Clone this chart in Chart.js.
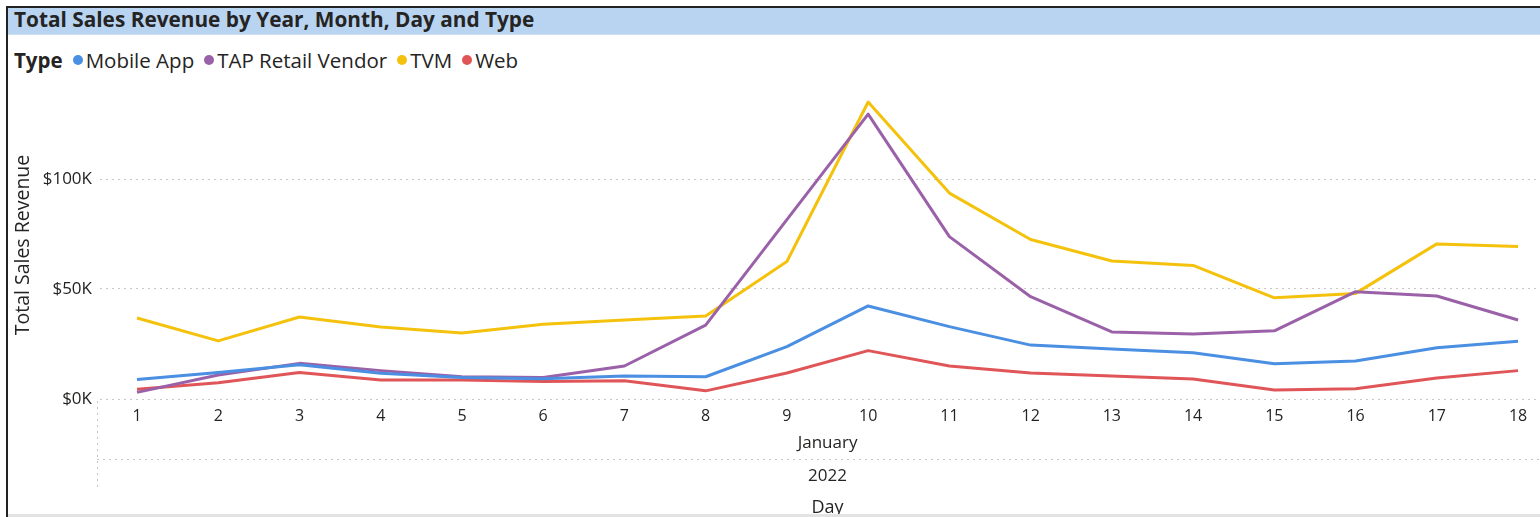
<!DOCTYPE html>
<html>
<head>
<meta charset="utf-8">
<script src="https://cdn.jsdelivr.net/npm/chart.js@4.4.0/dist/chart.umd.min.js"></script>
<style>
  html, body { margin:0; padding:0; background:#fff; }
  body { width:1540px; height:517px; position:relative; overflow:hidden; font-family:"Open Sans", "Noto Sans", sans-serif; color:#252423; }
  #frameTop { position:absolute; left:6px; top:6px; width:1534px; height:2px; background:#222; }
  #frameLeft { position:absolute; left:6px; top:6px; width:2px; height:511px; background:#222; }
  #frameBottom { position:absolute; left:8px; top:514px; width:1532px; height:3px; background:#e3e3e3; }
  #titleBar { position:absolute; left:8px; top:8px; width:1532px; height:26px; background:#b8d4f1; border-bottom:1px solid #cfe1f5; }
  #title { position:absolute; left:6px; top:-3px; font-size:20.8px; font-weight:700; letter-spacing:0; white-space:nowrap; color:#252423; }
  #legend { position:absolute; left:14px; top:46px; font-size:20.5px; white-space:nowrap; display:flex; align-items:center; }
  #legend .ttl { font-weight:700; margin-right:10px; }
  #legend .item { display:flex; align-items:center; margin-right:10px; }
  #legend .dot { width:10px; height:10px; border-radius:50%; margin-right:3px; }
  #wrap { position:absolute; left:0; top:70px; width:1540px; height:444px; }
</style>
</head>
<body>
<div id="titleBar"><div id="title">Total Sales Revenue by Year, Month, Day and Type</div></div>
<div id="frameTop"></div>
<div id="frameLeft"></div>
<div id="frameBottom"></div>
<div id="legend"></div>
<div id="wrap"><canvas id="c"></canvas></div>
<script>
const chartTitle = "Total Sales Revenue by Year, Month, Day and Type";
const legendTitle = "Type";
const days = ["1","2","3","4","5","6","7","8","9","10","11","12","13","14","15","16","17","18"];
const monthLabel = "January";
const yearLabel = "2022";
const xAxisTitle = "Day";
const yAxisTitle = "Total Sales Revenue";
const seriesNames = ["Mobile App", "TAP Retail Vendor", "TVM", "Web"];
const seriesColors = ["#4a8fe2", "#9a61a8", "#f4c20d", "#e05558"];
const mobileApp = [8900, 12000, 15600, 11700, 9800, 9200, 10500, 10100, 23800, 42300, 32900, 24500, 22700, 21000, 16000, 17300, 23300, 26300];
const tapRetail = [3000, 10900, 16200, 12900, 10100, 9800, 15000, 33600, 81500, 129500, 73800, 46500, 30500, 29500, 31000, 48800, 46800, 35900];
const tvm = [36800, 26400, 37300, 32700, 30000, 34000, 35900, 37700, 62500, 135000, 93600, 72500, 62700, 60700, 46000, 48000, 70500, 69300];
const web = [4400, 7400, 12000, 8600, 8600, 7900, 8300, 3700, 11800, 22000, 15000, 11800, 10500, 9100, 4100, 4700, 9500, 12900];
const yTicks = [0, 50000, 100000];

const seriesValues = [mobileApp, tapRetail, tvm, web];
const FONT = '"Open Sans", sans-serif';
const TEXT = '#252423';

// legend
const lg = document.getElementById('legend');
const t = document.createElement('span'); t.className = 'ttl'; t.textContent = legendTitle; lg.appendChild(t);
seriesNames.forEach((n, i) => {
  const it = document.createElement('span'); it.className = 'item';
  const d = document.createElement('span'); d.className = 'dot'; d.style.background = seriesColors[i];
  const s = document.createElement('span'); s.textContent = n;
  it.appendChild(d); it.appendChild(s); lg.appendChild(it);
});

const hierPlugin = {
  id: 'hier',
  afterDraw(chart) {
    const ctx = chart.ctx, a = chart.chartArea;
    const cx = (chart.scales.x.getPixelForValue(1) + chart.scales.x.getPixelForValue(days.length)) / 2;
    ctx.save();
    ctx.strokeStyle = '#c4c4c4'; ctx.lineWidth = 1; ctx.setLineDash([2, 4]);
    ctx.beginPath(); ctx.moveTo(97, a.bottom + 60.5); ctx.lineTo(chart.width, a.bottom + 60.5); ctx.stroke();
    ctx.beginPath(); ctx.moveTo(97.5, a.bottom + 2); ctx.lineTo(97.5, a.bottom + 92); ctx.stroke();
    ctx.setLineDash([]);
    ctx.fillStyle = TEXT;
    ctx.textAlign = 'center'; ctx.textBaseline = 'middle';
    ctx.font = '17px ' + FONT;
    ctx.fillText(monthLabel, cx, a.bottom + 44);
    ctx.fillText(yearLabel, cx, a.bottom + 77);
    ctx.font = '18px ' + FONT;
    ctx.fillText(xAxisTitle, cx, a.bottom + 109);
    // y axis title
    ctx.save();
    ctx.translate(23, (a.top + a.bottom) / 2);
    ctx.rotate(-Math.PI / 2);
    ctx.font = '19.5px ' + FONT;
    ctx.fillText(yAxisTitle, 0, 0);
    ctx.restore();
    ctx.restore();
  }
};

new Chart(document.getElementById('c'), {
  type: 'line',
  data: {
    datasets: seriesNames.map((n, i) => ({
      label: n,
      data: seriesValues[i].map((v, j) => ({ x: j + 1, y: v })),
      borderColor: seriesColors[i],
      backgroundColor: seriesColors[i],
      borderWidth: 3,
      pointRadius: 0,
      tension: 0,
      borderJoinStyle: 'round'
    }))
  },
  options: {
    responsive: true,
    maintainAspectRatio: false,
    animation: false,
    layout: { padding: { top: 21, right: 0, left: 0, bottom: 0 } },
    plugins: { legend: { display: false }, tooltip: { enabled: false } },
    scales: {
      x: {
        type: 'linear',
        min: 0.5446,
        max: 18.27,
        afterBuildTicks: s => { s.ticks = days.map((d, i) => ({ value: i + 1 })); },
        afterFit: s => { s.height = 115; },
        grid: { display: false, drawTicks: false },
        border: { display: false },
        ticks: {
          autoSkip: false, maxRotation: 0, padding: 8,
          color: TEXT, font: { size: 16, family: FONT },
          callback: v => days[v - 1]
        }
      },
      y: {
        min: 0,
        max: 140000,
        afterBuildTicks: s => { s.ticks = yTicks.map(v => ({ value: v })); },
        afterFit: s => { s.width = 100; },
        grid: { color: '#c8c8c8', lineWidth: 1, drawTicks: false },
        border: { display: false, dash: [2, 4] },
        ticks: {
          padding: 8, color: TEXT, font: { size: 17, family: FONT },
          callback: v => '$' + (v / 1000) + 'K'
        },
        title: { display: false }
      }
    }
  },
  plugins: [hierPlugin]
});
</script>
</body>
</html>
